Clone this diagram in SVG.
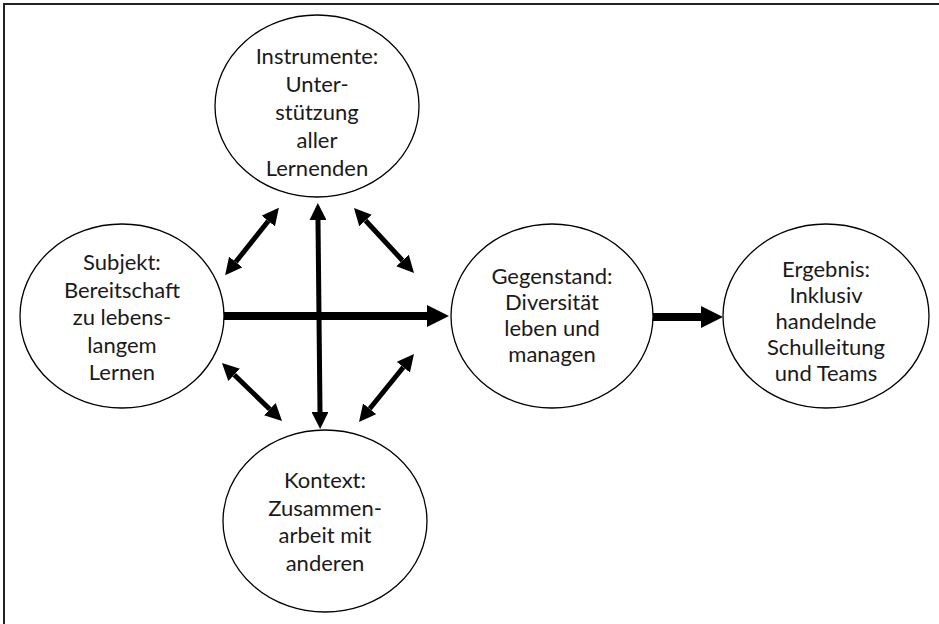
<svg xmlns="http://www.w3.org/2000/svg" width="939" height="624" viewBox="0 0 939 624">
<style>
.node ellipse{fill:#fff;stroke:#000;stroke-width:1.3}
.node text{font-family:Lato,"Open Sans","Liberation Sans",sans-serif;font-size:22px;fill:#1a1a1a;text-anchor:middle}
.con line{stroke:#000;fill:none}
.thick{stroke-width:8}
.thin{stroke-width:5}
</style>
<defs>
<marker id="big" markerUnits="userSpaceOnUse" viewBox="0 0 22 22" refX="0" refY="11" markerWidth="22" markerHeight="22" orient="auto-start-reverse"><path d="M0,0 L22,11 L0,22 z" fill="#000"/></marker>
<marker id="small" markerUnits="userSpaceOnUse" viewBox="0 0 17 17" refX="0" refY="8.5" markerWidth="17" markerHeight="17" orient="auto-start-reverse"><path d="M0,0 L17,8.5 L0,17 z" fill="#000"/></marker>
</defs>
<rect width="939" height="624" fill="#fff"/>
<path d="M4,624 V4 H939" fill="none" stroke="#222" stroke-width="2"/>
<g class="con">
<line class="thick" x1="224" y1="316" x2="427" y2="316" marker-end="url(#big)"/>
<line class="thick" x1="653" y1="317" x2="701" y2="317" marker-end="url(#big)"/>
<line class="thin" x1="318" y1="220" x2="320" y2="412" marker-start="url(#small)" marker-end="url(#small)"/>
<line class="thin" x1="235.7" y1="262" x2="268.3" y2="221" marker-start="url(#small)" marker-end="url(#small)"/>
<line class="thin" x1="365.5" y1="220.5" x2="402.5" y2="260.5" marker-start="url(#small)" marker-end="url(#small)"/>
<line class="thin" x1="234.2" y1="374.8" x2="269.8" y2="409.2" marker-start="url(#small)" marker-end="url(#small)"/>
<line class="thin" x1="403.3" y1="367.2" x2="369.7" y2="408.8" marker-start="url(#small)" marker-end="url(#small)"/>
</g>
<g id="instrumente" class="node">
<ellipse cx="317" cy="106" rx="102" ry="91"/>
<text x="317" y="64">Instrumente:</text>
<text x="317" y="92">Unter-</text>
<text x="317" y="120">stützung</text>
<text x="317" y="148">aller</text>
<text x="317" y="176">Lernenden</text>
</g>
<g id="subjekt" class="node">
<ellipse cx="122" cy="316" rx="102" ry="92"/>
<text x="122" y="270">Subjekt:</text>
<text x="122" y="297.5">Bereitschaft</text>
<text x="122" y="325">zu lebens-</text>
<text x="122" y="352.5">langem</text>
<text x="122" y="380">Lernen</text>
</g>
<g id="gegenstand" class="node">
<ellipse cx="552" cy="316" rx="101" ry="92"/>
<text x="552" y="284">Gegenstand:</text>
<text x="552" y="310">Diversität</text>
<text x="552" y="336">leben und</text>
<text x="552" y="362">managen</text>
</g>
<g id="ergebnis" class="node">
<ellipse cx="826" cy="316" rx="103" ry="92"/>
<text x="826" y="277">Ergebnis:</text>
<text x="826" y="303">Inklusiv</text>
<text x="826" y="329">handelnde</text>
<text x="826" y="355">Schulleitung</text>
<text x="826" y="381">und Teams</text>
</g>
<g id="kontext" class="node">
<ellipse cx="325" cy="521" rx="102" ry="91"/>
<text x="325" y="488">Kontext:</text>
<text x="325" y="516">Zusammen-</text>
<text x="325" y="543">arbeit mit</text>
<text x="325" y="571">anderen</text>
</g>
</svg>
